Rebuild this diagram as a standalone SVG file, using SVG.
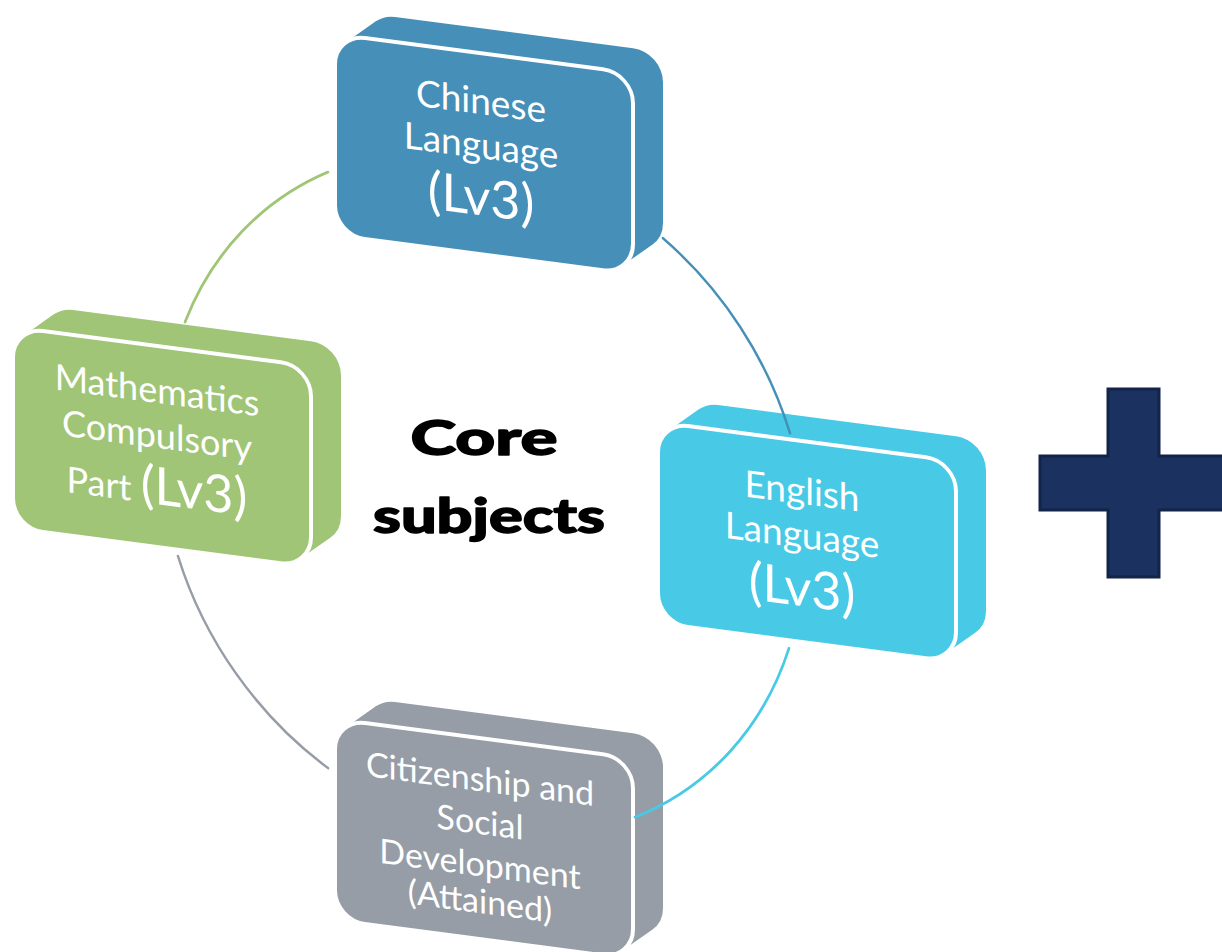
<svg xmlns="http://www.w3.org/2000/svg" width="1222" height="952" viewBox="0 0 1222 952">
<style>
.arc{fill:none;stroke-width:2.6;stroke-linecap:round}
.face{stroke:#ffffff;stroke-width:4}
.lbl{font-family:Lato,"Open Sans","Liberation Sans",sans-serif;fill:#ffffff;text-anchor:middle}
.ctr{font-family:Lato,"Liberation Sans",sans-serif;font-weight:900;fill:#000000;stroke:#000000;stroke-width:1.4;stroke-linejoin:round;text-anchor:middle}
.blue{fill:#458fb8}.green{fill:#a0c576}.cyan{fill:#48cae6}.grey{fill:#969da6}
</style>
<defs>
<path id="ext" d="M10.8,7 A30,30 0 0 0 0,30 L0,171 A30,30 0 0 0 30,201 L268,201 A30,30 0 0 0 287.2,194 L317.2,169 A30,30 0 0 0 328,146 L328,5 A30,30 0 0 0 298,-25 L60,-25 A30,30 0 0 0 40.8,-18 Z"/>
<rect id="face" x="0" y="0" width="298" height="201" rx="30" ry="30"/>
</defs>
<rect width="1222" height="952" fill="#ffffff"/>
<g id="chinese" transform="translate(335,34) skewY(7.5)">
<use href="#ext" class="blue"/>
<use href="#face" class="blue face"/>
<text class="lbl" x="146" y="61" font-size="37">Chinese</text>
<text class="lbl" x="146" y="105" font-size="37">Language</text>
<text class="lbl" x="146" y="162" font-size="52">(Lv3)</text>
</g>
<g id="maths" transform="translate(13,327) skewY(7.5)">
<use href="#ext" class="green"/>
<use href="#face" class="green face"/>
<text class="lbl" x="144" y="57" font-size="36">Mathematics</text>
<text class="lbl" x="144" y="102" font-size="36">Compulsory</text>
<text class="lbl" x="144" y="158" font-size="36">Part <tspan font-size="52">(Lv3)</tspan></text>
</g>
<g id="english" transform="translate(658,422) skewY(7.5)">
<use href="#ext" class="cyan"/>
<use href="#face" class="cyan face"/>
<text class="lbl" x="144" y="63" font-size="37">English</text>
<text class="lbl" x="144" y="107" font-size="37">Language</text>
<text class="lbl" x="144" y="165" font-size="52">(Lv3)</text>
</g>
<g id="citizenship" transform="translate(335,719) skewY(7.5)">
<use href="#ext" class="grey"/>
<use href="#face" class="grey face"/>
<text class="lbl" x="145" y="53" font-size="34">Citizenship and</text>
<text class="lbl" x="145" y="96" font-size="34">Social</text>
<text class="lbl" x="145" y="138" font-size="34">Development</text>
<text class="lbl" x="145" y="175" font-size="34">(Attained)</text>
</g>
<g id="connectors" transform="skewY(9.5)">
<path class="arc" stroke="#a0c576" d="M328,117.2 A323,338 0 0 0 185,291.1"/>
<path class="arc" stroke="#458fb8" d="M663,127.3 A323,338 0 0 1 790,301.1"/>
<path class="arc" stroke="#48cae6" d="M789,516.2 A323,338 0 0 1 635,711"/>
<path class="arc" stroke="#969da6" d="M178,526.3 A323,338 0 0 0 328,713.2"/>
</g>
<g id="center">
<text class="ctr" x="484" y="455" font-size="48" textLength="147" lengthAdjust="spacingAndGlyphs">Core</text>
<text class="ctr" x="489" y="533" font-size="48" textLength="232" lengthAdjust="spacingAndGlyphs">subjects</text>
</g>
<g id="plus">
<polygon points="1108,389 1159,389 1159,456 1230,456 1230,510 1159,510 1159,577 1108,577 1108,510 1040,510 1040,456 1108,456" fill="#1b3160" stroke="#132449" stroke-width="3"/>
</g>
</svg>
